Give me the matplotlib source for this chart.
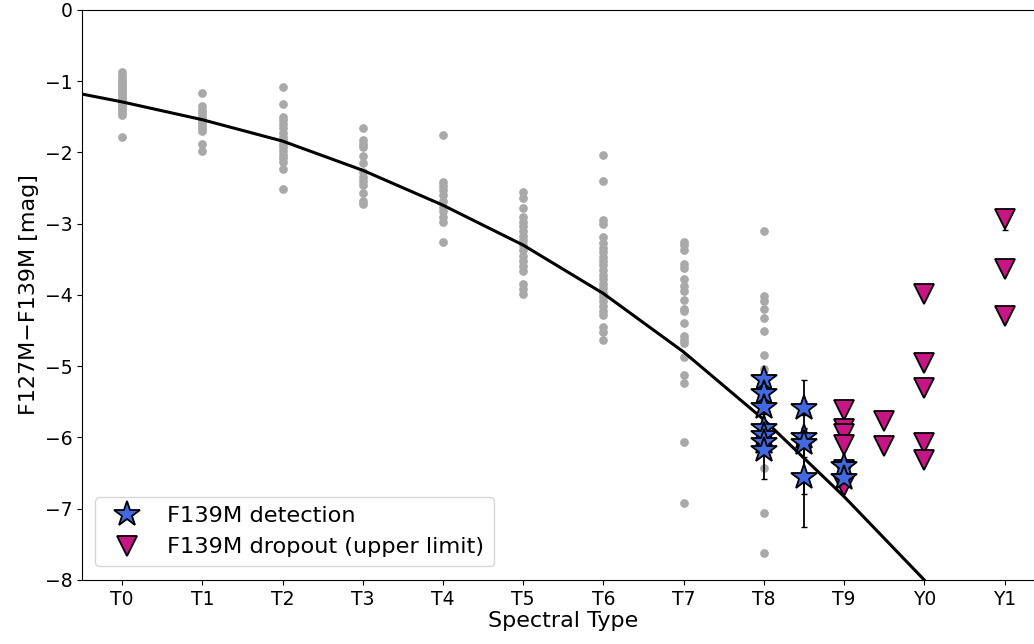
import numpy as np
import matplotlib.pyplot as plt

# spectral type index: 0 = T0 ... 9 = T9, 10 = Y0, 11 = Y1
tick_labels = ['T0', 'T1', 'T2', 'T3', 'T4', 'T5', 'T6', 'T7', 'T8', 'T9', 'Y0', 'Y1']

# grey comparison sample, per subtype
ref_T0 = [-0.87, -0.92, -0.97, -1.0, -1.03, -1.07, -1.1, -1.13, -1.16, -1.2, -1.23, -1.27, -1.3, -1.33, -1.37, -1.4, -1.44, -1.47, -1.78]
ref_T1 = [-1.16, -1.35, -1.4, -1.45, -1.5, -1.53, -1.57, -1.62, -1.66, -1.7, -1.88, -1.98]
ref_T2 = [-1.08, -1.32, -1.5, -1.55, -1.6, -1.66, -1.72, -1.78, -1.83, -1.88, -1.93, -1.98, -2.03, -2.08, -2.13, -2.23, -2.51]
ref_T3 = [-1.66, -1.82, -1.88, -1.93, -2.05, -2.15, -2.28, -2.35, -2.4, -2.45, -2.57, -2.68, -2.73]
ref_T4 = [-1.75, -2.41, -2.47, -2.53, -2.6, -2.68, -2.76, -2.82, -2.9, -2.98, -3.26]
ref_T5 = [-2.55, -2.64, -2.78, -2.9, -2.97, -3.03, -3.1, -3.17, -3.23, -3.3, -3.37, -3.45, -3.52, -3.6, -3.66, -3.85, -3.92, -3.98]
ref_T6 = [-2.03, -2.4, -2.95, -3.0, -3.19, -3.27, -3.34, -3.4, -3.46, -3.53, -3.58, -3.65, -3.72, -3.78, -3.84, -3.9, -3.97, -4.03, -4.09, -4.16, -4.22, -4.28, -4.45, -4.52, -4.63]
ref_T7 = [-3.25, -3.3, -3.37, -3.57, -3.62, -3.78, -3.88, -3.95, -4.07, -4.19, -4.23, -4.4, -4.58, -4.63, -4.68, -4.87, -5.12, -5.24, -6.07, -6.92]
ref_T8 = [-3.1, -4.01, -4.09, -4.19, -4.32, -4.5, -4.84, -5.04, -5.3, -5.6, -6.2, -6.43, -7.06, -7.62]
ref_cols = [ref_T0, ref_T1, ref_T2, ref_T3, ref_T4, ref_T5, ref_T6, ref_T7, ref_T8]

# polynomial relation
curve_x = [-0.5, 0, 1, 2, 3, 4, 5, 6, 7, 8, 9, 10, 10.3]
curve_y = [-1.18, -1.29, -1.54, -1.84, -2.25, -2.74, -3.3, -3.98, -4.8, -5.75, -6.83, -8.0, -8.36]

# F139M detections
det_x = [8, 8, 8, 8, 8, 8, 8, 8.5, 8.5, 8.5, 8.5, 9, 9]
det_y = [-5.18, -5.38, -5.57, -5.87, -5.96, -6.06, -6.18, -5.59, -5.99, -6.08, -6.56, -6.4, -6.57]
det_err = [0.1, 0.1, 0.1, 0.1, 0.1, 0.1, 0.4, 0.1, 0.8, 0.2, 0.7, 0.1, 0.1]

# F139M dropouts (upper limits)
drop_x = [9, 9, 9, 9, 9, 9, 9.5, 9.5, 10, 10, 10, 10, 10, 11, 11, 11]
drop_y = [-5.62, -5.88, -5.95, -6.1, -6.45, -6.68, -5.77, -6.12, -3.98, -4.95, -5.31, -6.08, -6.31, -2.94, -3.63, -4.29]
drop_err = [0, 0, 0, 0, 0, 0, 0, 0, 0, 0, 0, 0, 0, 0.15, 0, 0]

fig = plt.figure(figsize=(10.34, 6.44), dpi=100)
ax = fig.add_axes([0.0793, 0.0994, 0.931, 0.8851])

for i, col in enumerate(ref_cols):
    ax.plot([i] * len(col), col, 'o', color='darkgray', ms=6.3, mec='none', zorder=1)

ax.plot(curve_x, curve_y, '-', color='black', lw=2.2, zorder=2)

ax.errorbar(det_x, det_y, yerr=det_err, fmt='none', ecolor='black', elinewidth=1.3, capsize=2, zorder=3)
ax.errorbar(drop_x, drop_y, yerr=drop_err, fmt='none', ecolor='black', elinewidth=1.3, capsize=2, zorder=3)
ax.plot(drop_x, drop_y, 'v', color='mediumvioletred', mec='black', mew=1.3, ms=14,
        label='F139M dropout (upper limit)', zorder=4)
ax.plot(det_x, det_y, '*', color='royalblue', mec='black', mew=1.3, ms=19,
        label='F139M detection', zorder=5)

ax.set_xlim(-0.5, 11.5)
ax.set_ylim(-8, 0)
ax.set_xticks(range(len(tick_labels)))
ax.set_xticklabels(tick_labels)
ax.tick_params(labelsize=13.5)
ax.set_xlabel('Spectral Type', fontsize=16, labelpad=2)
ax.set_ylabel('F127M\u2212F139M [mag]', fontsize=16)

h, l = ax.get_legend_handles_labels()
ax.legend(h[::-1], l[::-1], loc='lower left', fontsize=16.2, borderaxespad=0.6)

fig.savefig('out.png', dpi=100)
